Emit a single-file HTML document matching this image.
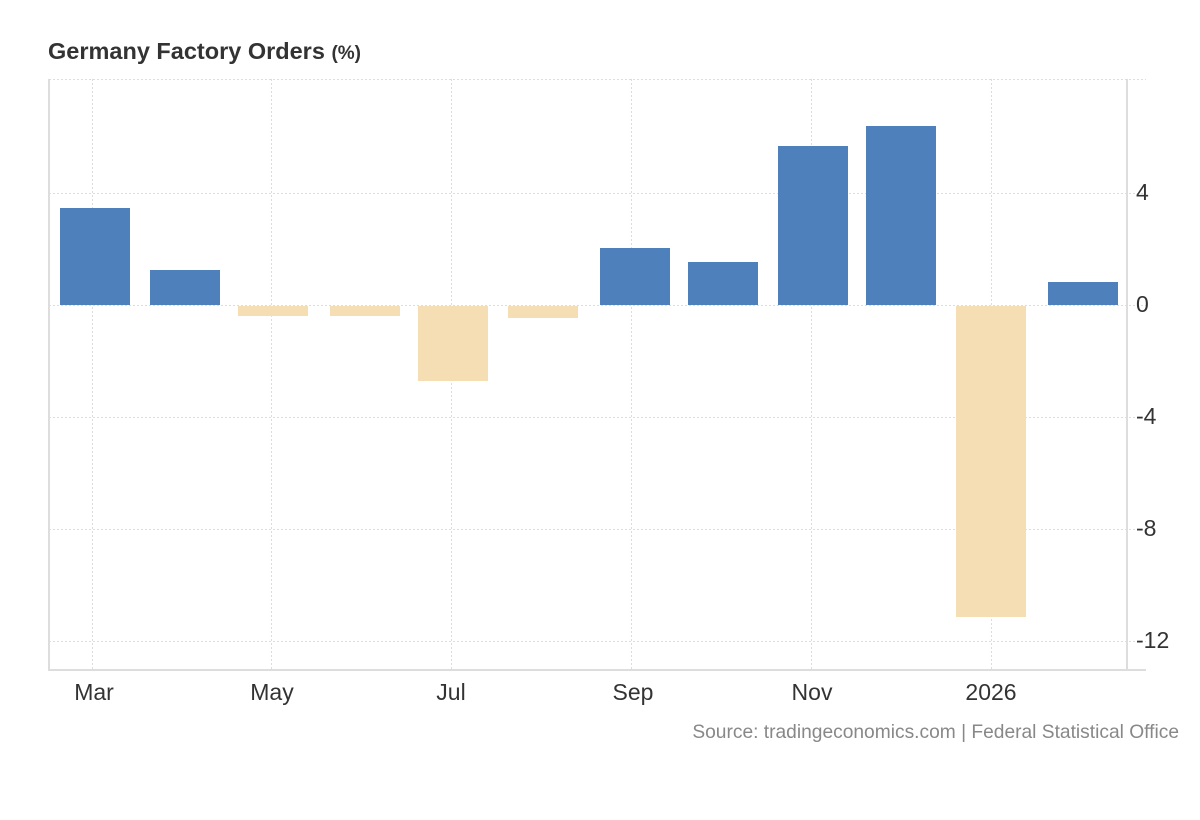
<!DOCTYPE html>
<html><head><meta charset="utf-8"><style>
body{margin:0;background:#fff;width:1200px;height:820px;overflow:hidden}
svg{display:block;font-family:"Liberation Sans",Arial,sans-serif}
</style></head><body>
<svg width="1200" height="820" viewBox="0 0 1200 820">
<text x="48" y="59" font-size="23.5" font-weight="bold" fill="#333">Germany Factory Orders <tspan font-size="19">(%)</tspan></text>
<g stroke="#ddd" stroke-width="1" stroke-dasharray="2,2">
<line x1="49" y1="79.5" x2="1146" y2="79.5"/>
<line x1="49" y1="193.5" x2="1146" y2="193.5"/>
<line x1="49" y1="305.5" x2="1146" y2="305.5"/>
<line x1="49" y1="417.5" x2="1146" y2="417.5"/>
<line x1="49" y1="529.5" x2="1146" y2="529.5"/>
<line x1="49" y1="641.5" x2="1146" y2="641.5"/>
<line x1="92.5" y1="79" x2="92.5" y2="670"/>
<line x1="271.5" y1="79" x2="271.5" y2="670"/>
<line x1="451.5" y1="79" x2="451.5" y2="670"/>
<line x1="631.5" y1="79" x2="631.5" y2="670"/>
<line x1="811.5" y1="79" x2="811.5" y2="670"/>
<line x1="991.5" y1="79" x2="991.5" y2="670"/>
</g>
<g stroke="#ddd" stroke-width="2">
<line x1="49" y1="79" x2="49" y2="671"/>
<line x1="1127" y1="79" x2="1127" y2="671"/>
<line x1="48" y1="670" x2="1146" y2="670"/>
</g>
<g fill="#4e80bc">
<rect x="60" y="208" width="70" height="97"/>
<rect x="150" y="270" width="70" height="35"/>
<rect x="600" y="248" width="70" height="57"/>
<rect x="688" y="262" width="70" height="43"/>
<rect x="778" y="146" width="70" height="159"/>
<rect x="866" y="126" width="70" height="179"/>
<rect x="1048" y="282" width="70" height="23"/>
</g>
<g fill="#f5deb3">
<rect x="238" y="306" width="70" height="10"/>
<rect x="330" y="306" width="70" height="10"/>
<rect x="418" y="306" width="70" height="75"/>
<rect x="508" y="306" width="70" height="12"/>
<rect x="956" y="306" width="70" height="311"/>
</g>
<g font-size="23" fill="#333">
<text x="1136" y="200">4</text>
<text x="1136" y="312">0</text>
<text x="1136" y="424">-4</text>
<text x="1136" y="536">-8</text>
<text x="1136" y="648">-12</text>
</g>
<g font-size="23" fill="#333" text-anchor="middle">
<text x="94" y="700">Mar</text>
<text x="272" y="700">May</text>
<text x="451" y="700">Jul</text>
<text x="633" y="700">Sep</text>
<text x="812" y="700">Nov</text>
<text x="991" y="700">2026</text>
</g>
<text x="1179" y="738" font-size="19.2" fill="#888" text-anchor="end">Source: tradingeconomics.com | Federal Statistical Office</text>
</svg>
</body></html>
